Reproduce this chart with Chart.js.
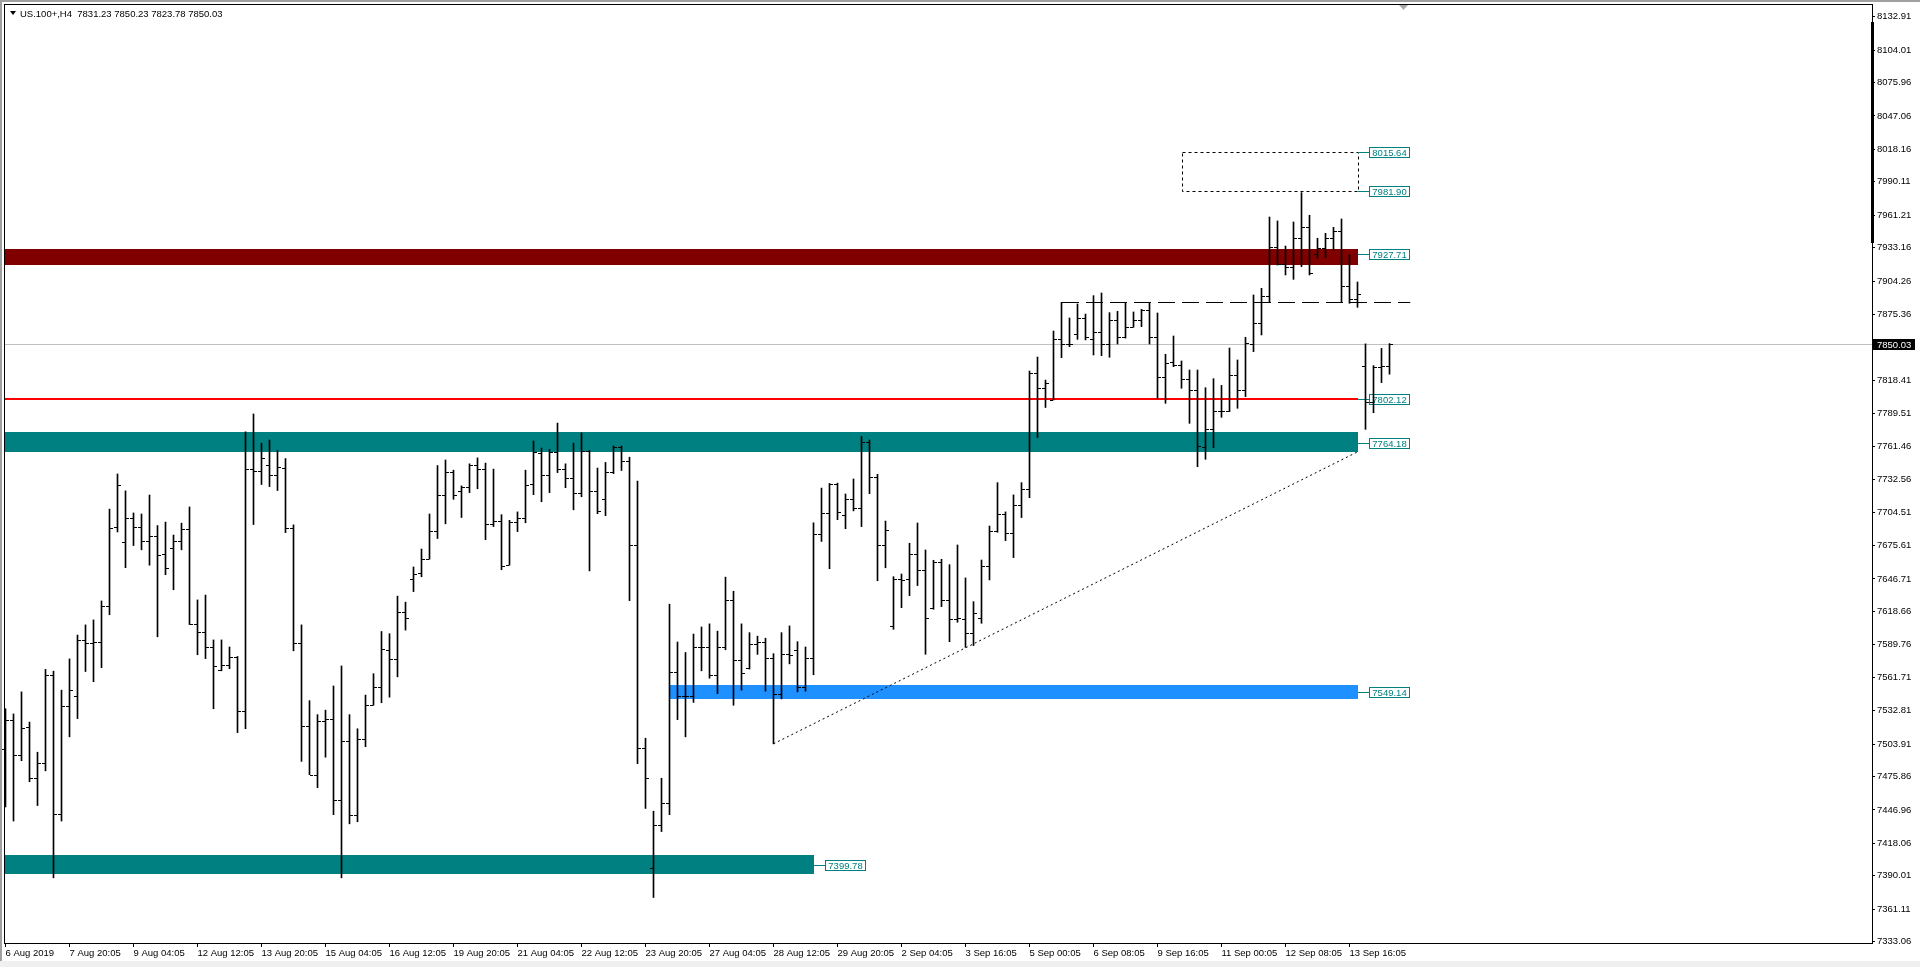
<!DOCTYPE html>
<html>
<head>
<meta charset="utf-8">
<script src="https://cdn.jsdelivr.net/npm/chart.js@4.4.1/dist/chart.umd.min.js"></script>
<style>
  html, body { margin: 0; padding: 0; background: #fff; overflow: hidden; }
  canvas { display: block; }
</style>
</head>
<body>
<canvas id="chart" width="1920" height="967"></canvas>
<script>
var symbol = "US.100+,H4";

// one label every 8 bars (H4)
var xTickLabels = ["6 Aug 2019", "7 Aug 20:05", "9 Aug 04:05", "12 Aug 12:05", "13 Aug 20:05", "15 Aug 04:05",
    "16 Aug 12:05", "19 Aug 20:05", "21 Aug 04:05", "22 Aug 12:05", "23 Aug 20:05", "27 Aug 04:05",
    "28 Aug 12:05", "29 Aug 20:05", "2 Sep 04:05", "3 Sep 16:05", "5 Sep 00:05", "6 Sep 08:05",
    "9 Sep 16:05", "11 Sep 00:05", "12 Sep 08:05", "13 Sep 16:05"];

var yTickValues = [8132.91, 8104.01, 8075.96, 8047.06, 8018.16, 7990.11, 7961.21, 7933.16, 7904.26, 7875.36,
    7847.31, 7818.41, 7789.51, 7761.46, 7732.56, 7704.51, 7675.61, 7646.71, 7618.66, 7589.76, 7561.71,
    7532.81, 7503.91, 7475.86, 7446.96, 7418.06, 7390.01, 7361.11, 7333.06];

var openP = [7500.0, 7524.8, 7494.5, 7518.4, 7474.4, 7487.5, 7563.3, 7443.5, 7536.6, 7545.1,
    7593.7, 7591.2, 7592.2, 7623.4, 7691.6, 7678.6, 7699.3, 7691.7, 7679.2, 7683.8,
    7668.0, 7673.2, 7679.2, 7689.5, 7608.2, 7600.6, 7587.6, 7567.9, 7572.1, 7579.1,
    7532.4, 7741.4, 7740.5, 7745.4, 7736.6, 7742.6, 7690.8, 7591.2, 7519.3, 7476.9,
    7523.9, 7525.4, 7455.6, 7506.6, 7442.6, 7508.7, 7538.1, 7553.3, 7585.2, 7577.9,
    7617.9, 7646.5, 7651.9, 7664.4, 7688.3, 7719.3, 7739.3, 7722.6, 7726.2, 7745.4,
    7741.4, 7694.1, 7696.8, 7658.6, 7695.9, 7699.3, 7728.6, 7756.0, 7736.6, 7756.6,
    7741.4, 7733.8, 7720.8, 7757.2, 7723.2, 7715.6, 7739.6, 7761.1, 7748.4, 7675.9,
    7500.2, 7396.5, 7433.8, 7452.6, 7566.7, 7545.1, 7545.1, 7587.6, 7587.6, 7563.3,
    7587.6, 7628.6, 7576.4, 7570.0, 7590.6, 7592.2, 7578.2, 7547.3, 7581.5, 7584.9,
    7553.3, 7578.2, 7685.3, 7703.5, 7728.6, 7702.0, 7715.6, 7707.7, 7765.1, 7735.1,
    7676.2, 7606.1, 7646.7, 7646.7, 7668.0, 7654.2, 7621.3, 7661.1, 7628.3, 7611.8,
    7611.8, 7599.7, 7612.7, 7658.0, 7688.2, 7702.6, 7686.8, 7710.4, 7724.3, 7824.5,
    7812.0, 7801.5, 7853.9, 7849.9, 7858.5, 7872.1, 7854.2, 7860.5, 7849.9, 7870.6,
    7856.2, 7864.9, 7870.6, 7879.3, 7855.7, 7821.1, 7834.0, 7831.7, 7819.6, 7810.1,
    7761.1, 7776.4, 7791.7, 7791.7, 7823.1, 7810.1, 7849.9, 7867.8, 7891.7, 7933.5,
    7919.1, 7916.8, 7941.3, 7950.8, 7927.4, 7932.6, 7941.8, 7947.9, 7900.1, 7888.5,
    7831.2, 7800.0, 7830.3, 7831.23];

var highP = [7534.5, 7530.0, 7549.1, 7523.0, 7496.9, 7568.5, 7567.0, 7550.6, 7577.6, 7598.2,
    7607.0, 7611.3, 7627.7, 7707.1, 7737.5, 7722.9, 7703.8, 7702.9, 7719.3, 7692.9,
    7695.9, 7684.7, 7695.0, 7709.0, 7628.6, 7632.8, 7594.0, 7594.0, 7587.9, 7579.7,
    7773.9, 7789.4, 7764.2, 7766.9, 7757.8, 7750.8, 7693.5, 7607.0, 7541.5, 7529.4,
    7533.3, 7554.2, 7571.5, 7529.4, 7517.2, 7546.3, 7564.8, 7601.3, 7599.4, 7631.9,
    7626.7, 7657.1, 7672.6, 7702.9, 7744.8, 7749.6, 7740.8, 7727.2, 7746.3, 7751.4,
    7746.9, 7741.7, 7702.3, 7697.4, 7704.7, 7740.8, 7766.0, 7759.9, 7758.7, 7781.5,
    7746.3, 7764.2, 7773.0, 7757.8, 7742.6, 7747.5, 7761.8, 7761.8, 7752.0, 7731.4,
    7509.0, 7445.9, 7474.4, 7624.9, 7592.2, 7583.1, 7599.1, 7605.2, 7607.9, 7601.6,
    7648.3, 7636.1, 7607.9, 7600.3, 7597.3, 7595.5, 7582.1, 7600.3, 7606.1, 7592.5,
    7587.9, 7695.3, 7725.3, 7729.3, 7729.6, 7720.2, 7733.2, 7769.9, 7766.9, 7737.2,
    7696.8, 7648.7, 7651.0, 7677.6, 7695.1, 7671.8, 7662.9, 7663.7, 7659.1, 7676.1,
    7647.6, 7627.1, 7663.1, 7692.5, 7730.0, 7704.7, 7719.4, 7730.0, 7826.5, 7838.6,
    7818.7, 7861.1, 7885.9, 7872.4, 7884.5, 7875.8, 7891.7, 7894.0, 7877.0, 7878.1,
    7885.9, 7877.6, 7879.9, 7885.6, 7876.7, 7841.0, 7856.8, 7835.2, 7827.4, 7827.4,
    7812.1, 7819.9, 7814.1, 7846.4, 7836.1, 7855.7, 7892.3, 7898.0, 7959.7, 7956.3,
    7934.6, 7955.4, 7980.8, 7961.2, 7941.3, 7945.6, 7950.8, 7958.0, 7926.9, 7903.5,
    7850.0, 7831.2, 7846.1, 7850.23];

var lowP = [7449.6, 7437.4, 7489.6, 7471.4, 7450.8, 7480.8, 7388.3, 7437.4, 7510.2, 7526.0,
    7566.7, 7557.9, 7570.0, 7615.8, 7687.4, 7656.5, 7675.6, 7671.9, 7658.6, 7596.7,
    7650.4, 7637.4, 7671.9, 7607.3, 7581.2, 7577.9, 7534.5, 7567.3, 7569.1, 7513.9,
    7517.2, 7693.8, 7728.4, 7726.6, 7723.2, 7686.8, 7584.6, 7489.0, 7477.5, 7466.2,
    7492.6, 7442.9, 7388.3, 7435.0, 7436.8, 7501.7, 7537.5, 7539.7, 7544.5, 7562.1,
    7602.5, 7635.8, 7648.6, 7663.8, 7681.7, 7694.4, 7715.6, 7699.9, 7721.4, 7724.7,
    7680.7, 7692.0, 7654.7, 7658.6, 7687.7, 7695.3, 7719.6, 7713.5, 7721.4, 7738.7,
    7725.6, 7706.5, 7717.8, 7653.7, 7703.2, 7701.4, 7737.8, 7740.5, 7628.0, 7486.9,
    7448.3, 7371.3, 7428.3, 7442.9, 7525.1, 7510.2, 7540.0, 7567.3, 7560.9, 7547.6,
    7585.5, 7537.5, 7550.6, 7568.8, 7581.5, 7549.7, 7504.2, 7543.0, 7573.3, 7549.1,
    7549.7, 7563.9, 7679.2, 7655.6, 7698.0, 7690.2, 7705.6, 7692.0, 7720.5, 7645.2,
    7656.4, 7603.2, 7621.9, 7632.3, 7641.0, 7581.6, 7620.5, 7622.8, 7592.5, 7609.3,
    7587.6, 7589.1, 7608.4, 7645.9, 7687.1, 7679.9, 7665.2, 7699.8, 7717.0, 7769.0,
    7795.0, 7801.5, 7838.1, 7847.6, 7853.9, 7853.4, 7840.4, 7839.8, 7838.4, 7849.9,
    7855.0, 7864.3, 7864.9, 7849.9, 7802.9, 7798.6, 7830.3, 7811.6, 7781.3, 7743.8,
    7750.2, 7760.3, 7786.5, 7791.4, 7794.3, 7804.4, 7843.3, 7857.7, 7885.9, 7918.2,
    7909.6, 7905.8, 7916.8, 7909.6, 7924.0, 7924.5, 7931.2, 7885.9, 7885.1, 7881.6,
    7776.1, 7790.5, 7816.5, 7823.78];

var closeP = [7524.8, 7494.5, 7517.8, 7474.4, 7487.5, 7563.3, 7443.5, 7536.6, 7550.3, 7593.7,
    7591.2, 7592.2, 7623.4, 7690.8, 7728.1, 7699.3, 7691.7, 7679.2, 7683.8, 7667.1,
    7655.9, 7679.2, 7689.5, 7608.2, 7600.6, 7587.6, 7571.5, 7572.1, 7579.1, 7532.4,
    7741.4, 7740.5, 7751.4, 7736.6, 7743.6, 7690.8, 7591.2, 7519.3, 7477.5, 7523.9,
    7525.4, 7455.6, 7506.6, 7442.6, 7508.7, 7538.1, 7553.3, 7585.8, 7577.9, 7617.9,
    7612.8, 7651.3, 7664.4, 7688.3, 7719.3, 7739.3, 7719.0, 7726.2, 7745.4, 7741.4,
    7694.1, 7696.8, 7658.0, 7695.9, 7699.3, 7728.1, 7756.6, 7736.6, 7756.6, 7741.4,
    7733.8, 7720.8, 7757.2, 7723.2, 7705.6, 7739.6, 7761.1, 7748.4, 7675.9, 7500.2,
    7475.0, 7433.8, 7452.6, 7566.7, 7545.1, 7545.1, 7587.6, 7587.6, 7563.3, 7587.6,
    7628.6, 7576.4, 7565.5, 7590.6, 7592.2, 7578.2, 7547.3, 7581.5, 7580.9, 7553.3,
    7578.2, 7685.3, 7703.5, 7728.6, 7705.0, 7715.6, 7707.7, 7765.1, 7735.1, 7676.2,
    7689.2, 7646.7, 7646.0, 7668.0, 7654.2, 7612.7, 7661.1, 7628.3, 7611.8, 7612.7,
    7599.7, 7617.0, 7658.0, 7688.2, 7702.6, 7686.8, 7710.4, 7724.3, 7824.5, 7812.0,
    7816.0, 7853.9, 7849.9, 7849.9, 7872.1, 7856.2, 7860.5, 7849.9, 7870.6, 7856.2,
    7864.9, 7870.6, 7879.3, 7855.7, 7821.1, 7833.2, 7831.7, 7819.6, 7810.1, 7761.7,
    7776.4, 7791.7, 7791.7, 7823.1, 7810.1, 7850.5, 7867.8, 7891.7, 7933.5, 7919.1,
    7916.8, 7941.3, 7950.8, 7911.0, 7932.6, 7941.8, 7947.9, 7900.1, 7888.5, 7893.1,
    7800.0, 7830.3, 7830.9, 7850.03];

// drawn objects on the chart (prices, bar indexes)
var zones = [
    { high: 7931.8, low: 7918.2, toBar: 169, color: "#800000", label: 7927.71 },
    { high: 7773.8, low: 7756.5, toBar: 169, color: "#008080", label: 7764.18 },
    { high: 7555.0, low: 7542.9, fromBar: 83, toBar: 169, color: "#1e90ff", label: 7549.14 },
    { high: 7408.0, low: 7391.9, toBar: 101, color: "#008080", label: 7399.78 }
];
var redLevel = { price: 7802.12, toBar: 169 };
var boxZone = { high: 8015.64, low: 7981.90, fromBar: 147, toBar: 169 };
var trendLine = { fromBar: 96, fromPrice: 7504.2, toBar: 169, toPrice: 7756.6 };
var dashLevel = { price: 7885.9, fromBar: 132, toBar: 175.6 };

var FONT = "Liberation Sans";
var TEAL = "#008080";

function priceTag(ctx, x, y, price) {
    // short connector + framed price label
    y = Math.round(y);
    ctx.fillStyle = TEAL;
    ctx.fillRect(x, y, 11, 1);
    ctx.fillStyle = "#fff";
    ctx.fillRect(x + 11, y - 5, 41, 11);
    ctx.strokeStyle = TEAL;
    ctx.lineWidth = 1;
    ctx.strokeRect(x + 11.5, y - 4.5, 40, 10);
    ctx.fillStyle = TEAL;
    ctx.font = "9.5px " + FONT;
    ctx.textAlign = "center";
    ctx.textBaseline = "middle";
    ctx.fillText(price.toFixed(2), x + 31.5, y + 1);
}

var objectsPlugin = {
    id: "objects",
    beforeDatasetsDraw: function (chart) {
        var ctx = chart.ctx, xs = chart.scales.x, ys = chart.scales.y, a = chart.chartArea;
        var last = closeP.length - 1;
        ctx.save();
        ctx.beginPath();
        ctx.rect(a.left, a.top, a.right - a.left, a.bottom - a.top);
        ctx.clip();

        // current price line
        var yc = Math.round(ys.getPixelForValue(closeP[last]));
        ctx.fillStyle = "#c0c0c0";
        ctx.fillRect(a.left, yc, a.right - a.left, 1);

        // zones
        zones.forEach(function (z) {
            var x0 = z.fromBar === undefined ? a.left : Math.round(xs.getPixelForValue(z.fromBar));
            var x1 = Math.round(xs.getPixelForValue(z.toBar));
            var y0 = Math.round(ys.getPixelForValue(z.high));
            var y1 = Math.round(ys.getPixelForValue(z.low));
            ctx.fillStyle = z.color;
            ctx.fillRect(x0, y0, x1 - x0, y1 - y0);
        });

        // red level
        var yr = Math.round(ys.getPixelForValue(redLevel.price));
        ctx.fillStyle = "#ff0000";
        ctx.fillRect(a.left, yr - 1, Math.round(xs.getPixelForValue(redLevel.toBar)) - a.left, 2);

        // dotted box
        ctx.strokeStyle = "#000";
        ctx.lineWidth = 1;
        ctx.setLineDash([3, 3]);
        var bx0 = Math.round(xs.getPixelForValue(boxZone.fromBar)) + 0.5;
        var bx1 = Math.round(xs.getPixelForValue(boxZone.toBar)) + 0.5;
        var by0 = Math.round(ys.getPixelForValue(boxZone.high)) + 0.5;
        var by1 = Math.round(ys.getPixelForValue(boxZone.low)) + 0.5;
        ctx.strokeRect(bx0, by0, bx1 - bx0, by1 - by0);

        // dotted trend line
        ctx.setLineDash([2, 3]);
        ctx.beginPath();
        ctx.moveTo(xs.getPixelForValue(trendLine.fromBar), ys.getPixelForValue(trendLine.fromPrice));
        ctx.lineTo(xs.getPixelForValue(trendLine.toBar), ys.getPixelForValue(trendLine.toPrice));
        ctx.stroke();

        // dashed level
        ctx.setLineDash([17, 7]);
        var yd = Math.round(ys.getPixelForValue(dashLevel.price)) + 0.5;
        ctx.beginPath();
        ctx.moveTo(Math.round(xs.getPixelForValue(dashLevel.fromBar)), yd);
        ctx.lineTo(xs.getPixelForValue(dashLevel.toBar), yd);
        ctx.stroke();
        ctx.setLineDash([]);
        ctx.restore();

        // price tags
        ctx.save();
        zones.forEach(function (z) {
            priceTag(ctx, Math.round(xs.getPixelForValue(z.toBar)), ys.getPixelForValue(z.label), z.label);
        });
        priceTag(ctx, Math.round(xs.getPixelForValue(redLevel.toBar)), ys.getPixelForValue(redLevel.price), redLevel.price);
        priceTag(ctx, Math.round(xs.getPixelForValue(boxZone.toBar)), ys.getPixelForValue(boxZone.high), boxZone.high);
        priceTag(ctx, Math.round(xs.getPixelForValue(boxZone.toBar)), ys.getPixelForValue(boxZone.low), boxZone.low);
        ctx.restore();
    },
    afterDatasetsDraw: function (chart) {
        // open / close ticks of each bar
        var ctx = chart.ctx, xs = chart.scales.x, ys = chart.scales.y;
        ctx.save();
        ctx.fillStyle = "#000";
        for (var i = 0; i < openP.length; i++) {
            var x = Math.floor(xs.getPixelForValue(i));
            ctx.fillRect(x - 3, Math.round(ys.getPixelForValue(openP[i])), 3, 1);
            ctx.fillRect(x + 1, Math.round(ys.getPixelForValue(closeP[i])), 3, 1);
        }
        ctx.restore();
    },
    afterDraw: function (chart) {
        var ctx = chart.ctx, xs = chart.scales.x, ys = chart.scales.y, a = chart.chartArea;
        var last = closeP.length - 1;
        ctx.save();
        // window edge
        ctx.fillStyle = "#a0a0a0";
        ctx.fillRect(0, 0, chart.width, 2);
        ctx.fillRect(0, 0, 2, chart.height);
        ctx.fillStyle = "#f0f0f0";
        ctx.fillRect(0, 961, chart.width, 6);
        // frame
        ctx.fillStyle = "#000";
        ctx.fillRect(a.left, a.top, a.right - a.left, 1);
        ctx.fillRect(a.left, a.top, 1, a.bottom - a.top);
        ctx.fillRect(a.right, a.top, 1, a.bottom - a.top + 1);
        ctx.fillRect(a.left, a.bottom, a.right - a.left, 1);
        // thick part of the price scale
        var t0 = Math.round(ys.getPixelForValue(8128.6)), t1 = Math.round(ys.getPixelForValue(7937.0));
        ctx.fillRect(a.right - 1, t0, 3, t1 - t0);

        // current price tag on the axis
        var yc = Math.round(ys.getPixelForValue(closeP[last]));
        ctx.fillStyle = "#000";
        ctx.fillRect(a.right + 1, yc - 5, 42, 11);
        ctx.fillStyle = "#fff";
        ctx.font = "9.5px " + FONT;
        ctx.textAlign = "left";
        ctx.textBaseline = "middle";
        ctx.fillText(closeP[last].toFixed(2), a.right + 5, yc + 1);

        // chart shift marker
        var sx = Math.round(xs.getPixelForValue(174.7));
        ctx.fillStyle = "#a9a9a9";
        ctx.beginPath();
        ctx.moveTo(sx - 4, a.top + 1);
        ctx.lineTo(sx + 5, a.top + 1);
        ctx.lineTo(sx + 0.5, a.top + 6);
        ctx.closePath();
        ctx.fill();

        // header
        ctx.fillStyle = "#000";
        ctx.beginPath();
        ctx.moveTo(10, 11);
        ctx.lineTo(16, 11);
        ctx.lineTo(13, 15);
        ctx.closePath();
        ctx.fill();
        ctx.font = "9.5px " + FONT;
        ctx.textAlign = "left";
        ctx.textBaseline = "middle";
        var head = symbol + "  " + [openP[last], highP[last], lowP[last], closeP[last]].map(function (v) {
            return v.toFixed(2);
        }).join(" ");
        ctx.fillText(head, 20, 14);
        ctx.restore();
    }
};

var bars = highP.map(function (h, i) { return { x: i, y: [lowP[i], h] }; });

new Chart(document.getElementById("chart").getContext("2d"), {
    type: "bar",
    data: {
        datasets: [{
            data: bars,
            backgroundColor: "#000",
            borderWidth: 0,
            barThickness: 1,
            grouped: false
        }]
    },
    options: {
        responsive: false,
        animation: false,
        layout: { padding: { left: 4, top: 4, right: 0, bottom: 0 } },
        plugins: { legend: { display: false }, tooltip: { enabled: false } },
        scales: {
            x: {
                type: "linear",
                offset: false,
                min: -0.1875,
                max: 233.3125,
                afterBuildTicks: function (s) {
                    s.ticks = xTickLabels.map(function (t, i) { return { value: i * 8 }; });
                },
                afterFit: function (s) {
                    s.height = 24;
                    s.paddingLeft = 0; s.paddingRight = 0;
                },
                grid: { offset: false, drawOnChartArea: false, drawTicks: true, tickLength: 4, color: "#000" },
                border: { display: false },
                ticks: {
                    autoSkip: false, maxRotation: 0, align: "start", padding: 1, labelOffset: 0,
                    color: "#000", font: { family: FONT, size: 9.5 },
                    callback: function (v) { return xTickLabels[Math.round(v / 8)]; }
                }
            },
            y: {
                position: "right",
                min: 7331.94,
                max: 8143.89,
                afterBuildTicks: function (s) {
                    s.ticks = yTickValues.map(function (v) { return { value: v }; });
                },
                afterFit: function (s) {
                    s.width = 48;
                    s.paddingTop = 0; s.paddingBottom = 0;
                },
                grid: { drawOnChartArea: false, drawTicks: true, tickLength: 3, color: "#000" },
                border: { display: false },
                ticks: {
                    padding: 2, color: "#000", font: { family: FONT, size: 9.5 },
                    callback: function (v) { return v.toFixed(2); }
                }
            }
        }
    },
    plugins: [objectsPlugin]
});
</script>
</body>
</html>
